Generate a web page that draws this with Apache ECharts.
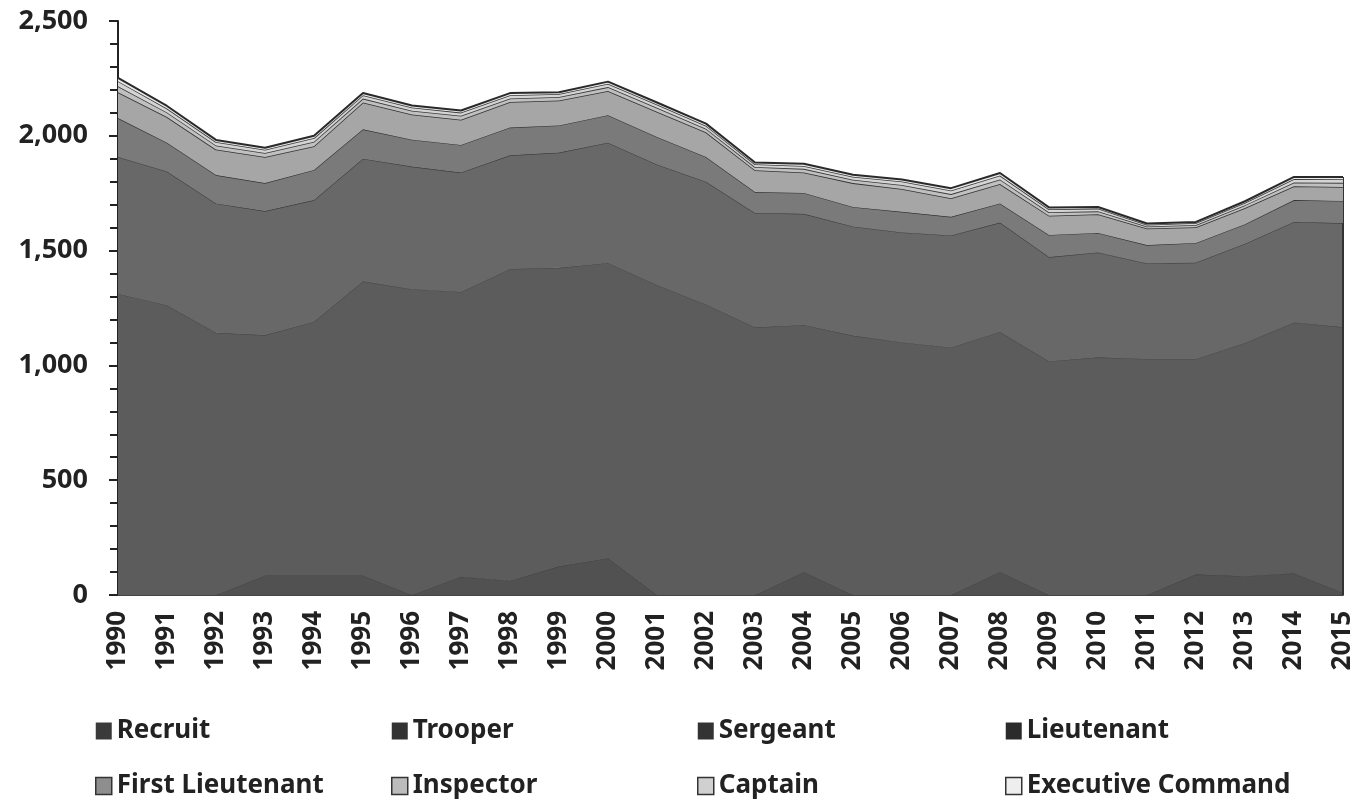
<!DOCTYPE html>
<html>
<head>
<meta charset="utf-8">
<script src="https://cdn.jsdelivr.net/npm/echarts@6/dist/echarts.min.js"></script>
<style>
html,body{margin:0;padding:0;background:#fff;}
#chart{width:1364px;height:804px;}
</style>
</head>
<body>
<div id="chart"></div>
<script>
const years = ['1990','1991','1992','1993','1994','1995','1996','1997','1998','1999','2000','2001','2002','2003','2004','2005','2006','2007','2008','2009','2010','2011','2012','2013','2014','2015'];
const recruit = [0,0,0,85,85,85,0,80,62,125,160,0,0,0,100,0,0,0,100,0,0,0,90,82,95,10];
const trooper = [1312,1262,1142,1047,1105,1281,1332,1240,1358,1300,1286,1350,1265,1166,1076,1130,1100,1078,1046,1018,1035,1028,938,1016,1092,1157];
const sergeant = [596,583,563,540,530,534,534,520,495,502,524,525,535,498,484,475,479,488,476,454,457,416,420,432,438,453];
const lieutenant = [169,125,124,122,131,128,117,120,121,118,120,120,108,91,91,85,90,81,83,96,85,80,85,85,95,96];
const firstLieutenant = [113,112,111,114,104,117,110,110,111,109,105,110,107,95,89,104,99,81,85,84,81,72,69,71,60,61];
const inspector = [26,20,18,17,19,17,16,17,16,15,17,17,16,14,16,15,18,18,20,15,13,9,10,12,17,18];
const captain = [22,17,15,14,16,15,14,14,14,13,15,14,13,12,13,13,15,16,17,13,12,8,8,10,15,16];
const executive = [14,11,9,9,10,9,9,9,9,8,9,9,9,8,9,8,9,10,11,8,7,5,5,7,9,10];
const yTicks = [0,500,1000,1500,2000,2500];

const names = ['Recruit','Trooper','Sergeant','Lieutenant','First Lieutenant','Inspector','Captain','Executive Command'];
const allData = [recruit,trooper,sergeant,lieutenant,firstLieutenant,inspector,captain,executive];
const fills = ['#515151','#5c5c5c','#686868','#7a7a7a','#a6a6a6','#c0c0c0','#d4d4d4','#eaeaea'];
const lines = ['#454545','#4a4a4a','#3e3e3e','#333333','#333333','#3a3a3a','#3a3a3a','#2a2a2a'];
const legendFills = ['#3a3a3a','#333333','#333333','#2b2b2b','#8e8e8e','#bcbcbc','#d0d0d0','#eeeeee'];

const lastIdx = years.length - 1;
const lastTotal = allData.reduce((s, d) => s + d[lastIdx], 0);

const series = names.map((n, i) => {
  const s = {
    name: n,
    type: 'line',
    stack: 'total',
    data: allData[i],
    symbol: 'none',
    smooth: false,
    lineStyle: { color: lines[i], width: i >= 4 ? 1.6 : 1.2 },
    areaStyle: { color: fills[i], opacity: 1 },
    itemStyle: { color: fills[i] },
    z: 2 + i
  };
  if (i === names.length - 1) {
    s.lineStyle.width = 2;
    s.markLine = {
      symbol: 'none',
      silent: true,
      label: { show: false },
      lineStyle: { color: '#333', width: 2, type: 'solid' },
      data: [[{ coord: [years[lastIdx], 0] }, { coord: [years[lastIdx], lastTotal] }]]
    };
  }
  return s;
});

const legendCols = [90, 386, 692, 1000];
const legends = legendCols.map((x, c) => ({
  orient: 'vertical',
  left: x,
  top: 713,
  itemWidth: 16,
  itemHeight: 17,
  itemGap: 29,
  icon: 'rect',
  selectedMode: false,
  textStyle: { fontFamily: 'Noto Sans', fontWeight: 'bold', fontSize: 26, color: '#222' },
  data: [c, c + 4].map(k => ({
    name: names[k],
    itemStyle: { color: legendFills[k], borderColor: k >= 4 ? '#333' : legendFills[k], borderWidth: k >= 4 ? 1.5 : 0 }
  }))
}));

const chart = echarts.init(document.getElementById('chart'), null, { renderer: 'canvas' });
chart.setOption({
  animation: false,
  backgroundColor: '#ffffff',
  grid: { left: 118, right: 21, top: 21, bottom: 209, containLabel: false },
  legend: legends,
  xAxis: {
    type: 'category',
    data: years,
    boundaryGap: false,
    axisLine: { show: true, lineStyle: { color: '#444', width: 2 } },
    axisTick: { show: false },
    axisLabel: { rotate: 90, margin: 16, fontFamily: 'Noto Sans', fontWeight: 'bold', fontSize: 26, color: '#222', interval: 0 },
    splitLine: { show: false }
  },
  yAxis: {
    type: 'value',
    min: yTicks[0],
    max: yTicks[yTicks.length - 1],
    interval: 500,
    axisLine: { show: true, lineStyle: { color: '#222', width: 2 } },
    axisTick: { show: true, length: 9, lineStyle: { color: '#222', width: 2 } },
    minorTick: { show: true, splitNumber: 5, length: 8, lineStyle: { color: '#222', width: 2 } },
    axisLabel: {
      margin: 30, fontFamily: 'Noto Sans', fontWeight: 'bold', fontSize: 27, color: '#222',
      formatter: v => v.toLocaleString('en-US')
    },
    splitLine: { show: false }
  },
  series: series
});
</script>
</body>
</html>
